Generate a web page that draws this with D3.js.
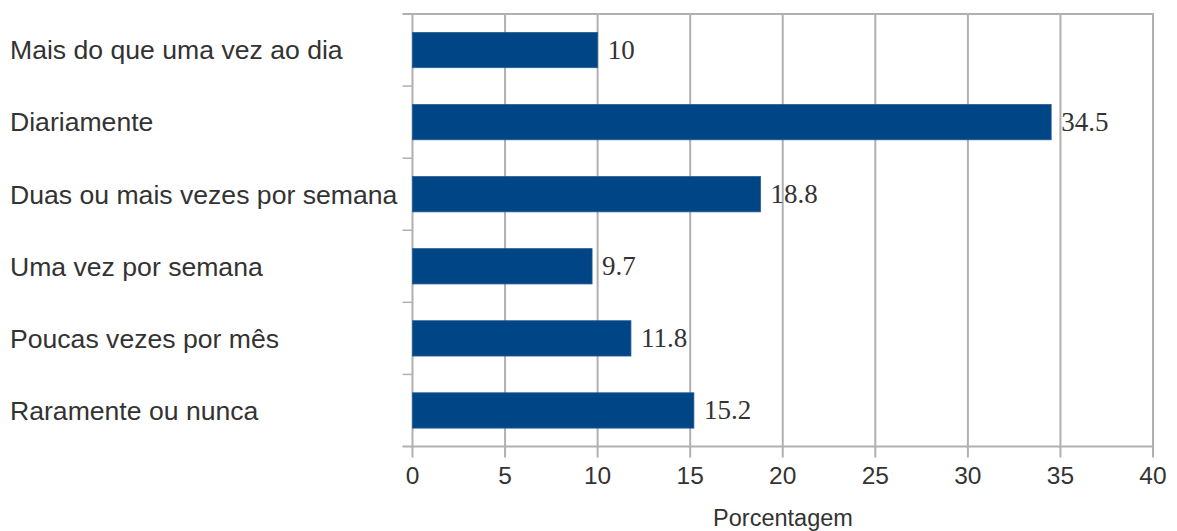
<!DOCTYPE html>
<html>
<head>
<meta charset="utf-8">
<script src="https://cdn.jsdelivr.net/npm/d3@7"></script>
<style>
  html, body { margin: 0; padding: 0; background: #fff; }
  svg { display: block; }
</style>
</head>
<body>
<svg id="chart" width="1177" height="531"></svg>
<script>
// Frequency categories and their share (%)
const categories = [
  "Mais do que uma vez ao dia",
  "Diariamente",
  "Duas ou mais vezes por semana",
  "Uma vez por semana",
  "Poucas vezes por mês",
  "Raramente ou nunca"
];
const values = [10, 34.5, 18.8, 9.7, 11.8, 15.2];
const xTicks = [0, 5, 10, 15, 20, 25, 30, 35, 40];
const xTitle = "Porcentagem";

const svg = d3.select("#chart");
const margin = { left: 412.5, right: 1153, top: 14, bottom: 446.5 };
const gridColor = "#b0b0b0";
const barColor = "#004586";
const sans = "Liberation Sans, Arial, sans-serif";
const serif = "Liberation Serif, Times New Roman, serif";

const x = d3.scaleLinear().domain([0, 40]).range([margin.left, margin.right]);
const y = d3.scaleBand().domain(categories).range([margin.top, margin.bottom]).paddingInner(0.51).paddingOuter(0.255);
const yBounds = d3.scaleBand().domain(categories).range([margin.top, margin.bottom]);

// vertical gridlines, extending below the axis as tick marks
svg.append("g").selectAll("line").data(xTicks).join("line")
  .attr("x1", d => x(d)).attr("x2", d => x(d))
  .attr("y1", margin.top).attr("y2", margin.bottom + 11)
  .attr("stroke", gridColor).attr("stroke-width", 2);

// top border and bottom axis line
svg.append("line")
  .attr("x1", margin.left - 10).attr("x2", margin.right + 1)
  .attr("y1", margin.top).attr("y2", margin.top)
  .attr("stroke", gridColor).attr("stroke-width", 2);
svg.append("line")
  .attr("x1", margin.left - 10).attr("x2", margin.right + 1)
  .attr("y1", margin.bottom).attr("y2", margin.bottom)
  .attr("stroke", gridColor).attr("stroke-width", 2);

// category separators on the left axis
const bounds = categories.slice(1).map(c => yBounds(c));
svg.append("g").selectAll("line").data(bounds).join("line")
  .attr("x1", margin.left - 10).attr("x2", margin.left)
  .attr("y1", d => d).attr("y2", d => d)
  .attr("stroke", gridColor).attr("stroke-width", 1.5);

// bars
svg.append("g").selectAll("rect").data(values).join("rect")
  .attr("x", x(0))
  .attr("y", (d, i) => y(categories[i]))
  .attr("width", d => x(d) - x(0))
  .attr("height", y.bandwidth())
  .attr("fill", barColor)
  .attr("stroke", "#2a5d92").attr("stroke-width", 0.8);

// value labels
svg.append("g").selectAll("text").data(values).join("text")
  .attr("x", d => x(d) + 10)
  .attr("y", (d, i) => y(categories[i]) + y.bandwidth() / 2)
  .attr("dy", "0.33em")
  .attr("font-family", serif)
  .attr("font-size", 27)
  .attr("fill", "#333")
  .text(d => d);

// category labels
svg.append("g").selectAll("text").data(categories).join("text")
  .attr("x", 10)
  .attr("y", d => y(d) + y.bandwidth() / 2)
  .attr("dy", "0.35em")
  .attr("font-family", sans)
  .attr("font-size", 26.6)
  .attr("fill", "#333")
  .text(d => d);

// x tick labels
svg.append("g").selectAll("text").data(xTicks).join("text")
  .attr("x", d => x(d))
  .attr("y", 484)
  .attr("text-anchor", "middle")
  .attr("font-family", sans)
  .attr("font-size", 24.5)
  .attr("fill", "#333")
  .text(d => d);

// axis title
svg.append("text")
  .attr("x", 783).attr("y", 526)
  .attr("text-anchor", "middle")
  .attr("font-family", sans)
  .attr("font-size", 23.5)
  .attr("fill", "#333")
  .text(xTitle);
</script>
</body>
</html>
